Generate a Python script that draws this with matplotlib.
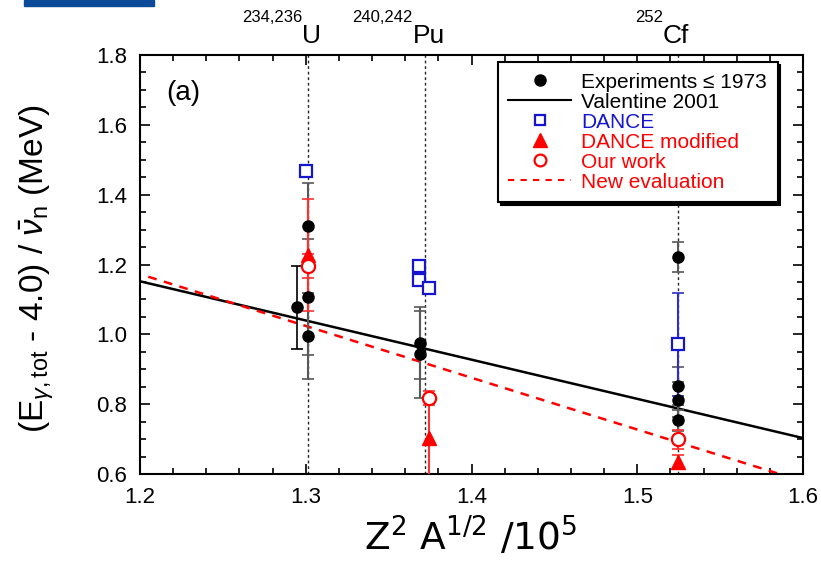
import matplotlib
matplotlib.use("Agg")
import matplotlib.pyplot as plt
from matplotlib.lines import Line2D
from matplotlib.patches import Rectangle
from matplotlib.ticker import MultipleLocator

plt.rcParams['font.family'] = ['Liberation Sans', 'DejaVu Sans']
plt.rcParams['mathtext.fontset'] = 'custom'
plt.rcParams['mathtext.rm'] = 'Liberation Sans'
plt.rcParams['mathtext.it'] = 'Liberation Sans:italic'
plt.rcParams['mathtext.bf'] = 'Liberation Sans:bold'

# isotope positions in Z^2 A^1/2 / 10^5
isotope_x = [1.3015, 1.372, 1.5245]
isotope_sup = ['234,236', '240,242', '252']
isotope_sym = ['U', 'Pu', 'Cf']

# experiments <= 1973
exp_x = [1.3015, 1.3015, 1.3015, 1.369, 1.369, 1.5245, 1.5245, 1.5245, 1.5245]
exp_y = [1.310, 1.107, 0.996, 0.974, 0.943, 1.222, 0.852, 0.813, 0.754]
exp_err = [0.124, 0.165, 0.123, 0.103, 0.125, 0.043, 0.055, 0.05, 0.03]
# one older point shifted off the U line
exp2_x = [1.2949]
exp2_y = [1.077]
exp2_err = [0.12]

# DANCE
dance_x = [1.300, 1.3685, 1.3685, 1.3745, 1.5245]
dance_y = [1.468, 1.196, 1.157, 1.134, 0.971]
dance_err = [0.0, 0.016, 0.0, 0.0, 0.147]

# DANCE modified
mod_x = [1.3015, 1.3745, 1.5245]
mod_y = [1.227, 0.702, 0.635]
mod_err = [0.16, 0.11, 0.02]

# our work
our_x = [1.3015, 1.3745, 1.5245]
our_y = [1.196, 0.818, 0.699]
our_err = [0.034, 0.02, 0.028]

# systematics lines
val_x = [1.2, 1.6]
val_y = [1.152, 0.703]
new_x = [1.205, 1.6]
new_y = [1.165, 0.579]

fig = plt.figure(figsize=(8.21, 5.70), dpi=100)
ax = fig.add_axes([0.1705, 0.1684, 0.8076, 0.7351])

# header bar
fig.patches.append(Rectangle((24 / 821, 1 - 6 / 570), 130 / 821, 6 / 570,
                             transform=fig.transFigure, color='#0b4a98'))

for x in isotope_x:
    ax.axvline(x, color='0.15', ls=(0, (2, 2)), lw=1.0, zorder=1)

ax.plot(val_x, val_y, color='black', lw=1.8, zorder=2)
ax.plot(new_x, new_y, color='red', lw=1.8, ls=(0, (3.5, 3)), zorder=2)

ax.errorbar(exp_x, exp_y, yerr=exp_err, fmt='none', ecolor='0.35',
            elinewidth=1.5, capsize=4.5, capthick=1.2, zorder=3)
ax.errorbar(exp2_x, exp2_y, yerr=exp2_err, fmt='none', ecolor='black',
            elinewidth=1.2, capsize=4.5, capthick=1.2, zorder=3)
ax.errorbar(dance_x, dance_y, yerr=dance_err, fmt='none', ecolor='#3030c0',
            elinewidth=1.5, capsize=4.5, capthick=1.2, zorder=3)
ax.errorbar(mod_x, mod_y, yerr=mod_err, fmt='none', ecolor='#ff3030',
            elinewidth=1.5, capsize=4.5, capthick=1.2, zorder=3)
ax.errorbar(our_x, our_y, yerr=our_err, fmt='none', ecolor='#ff3030',
            elinewidth=1.5, capsize=4.5, capthick=1.2, zorder=3)

ax.plot(exp_x + exp2_x, exp_y + exp2_y, 'o', color='black', ms=8, zorder=5)
ax.plot(dance_x, dance_y, 's', mfc='white', mec='#1515d0', mew=1.6, ms=8, zorder=5)
ax.plot(mod_x, mod_y, '^', color='red', ms=10, zorder=5)
ax.plot(our_x, our_y, 'o', mfc='white', mec='red', mew=1.6, ms=9.5, zorder=6)

ax.set_xlim(1.2, 1.6)
ax.set_ylim(0.6, 1.8)
ax.xaxis.set_major_locator(MultipleLocator(0.1))
ax.xaxis.set_minor_locator(MultipleLocator(0.02))
ax.yaxis.set_major_locator(MultipleLocator(0.2))
ax.yaxis.set_minor_locator(MultipleLocator(0.05))
ax.tick_params(which='both', direction='in', top=True, right=True, width=1.2)
ax.tick_params(which='major', length=7, labelsize=16, pad=9)
ax.tick_params(which='minor', length=4)
for s in ax.spines.values():
    s.set_linewidth(1.5)

ax.set_xlabel(r'Z$^2$ A$^{1/2}$ /10$^5$', family='DejaVu Sans', fontsize=27,
              math_fontfamily='dejavusans')
ax.set_ylabel(r'(E$_{\gamma,\rm tot}$ - 4.0) / $\bar{\nu}_{\rm n}$ (MeV)', fontsize=24)
ax.yaxis.set_label_coords(-0.126, 0.49)
ax.xaxis.set_label_coords(0.498, -0.1)

ax.text(0.039, 0.893, '(a)', transform=ax.transAxes, fontsize=20, va='baseline')

# isotope names above the frame
trans = ax.get_xaxis_transform()
for x, sup, sym in zip([1.2977, 1.3647, 1.5155], isotope_sup, isotope_sym):
    ax.text(x, 1.078, sup, transform=trans, fontsize=12, ha='right', va='baseline')
    ax.text(x, 1.0286, sym, transform=trans, fontsize=19, ha='left', va='baseline')

handles = [
    Line2D([], [], ls='none', marker='o', color='black', ms=8),
    Line2D([], [], color='black', lw=1.5),
    Line2D([], [], ls='none', marker='s', mfc='white', mec='#1515d0', mew=1.6, ms=7.5),
    Line2D([], [], ls='none', marker='^', color='red', ms=10),
    Line2D([], [], ls='none', marker='o', mfc='white', mec='red', mew=1.6, ms=8.5),
    Line2D([], [], color='red', lw=1.5, ls=(0, (3, 3))),
]
labels = ['Experiments \u2264 1973', 'Valentine 2001', 'DANCE', 'DANCE modified',
          'Our work', 'New evaluation']
leg = ax.legend(handles, labels, loc='upper left', bbox_to_anchor=(0.540, 0.983),
                borderaxespad=0, fontsize=15, frameon=True, fancybox=False,
                shadow={'color': 'black', 'alpha': 1}, handlelength=3.0,
                handletextpad=0.5, labelspacing=0.05, borderpad=0.5,
                labelcolor=['black', 'black', '#1515d0', 'red', 'red', 'red'])
leg.get_frame().set_edgecolor('black')
leg.get_frame().set_linewidth(1.5)
leg.set_zorder(10)

fig.savefig('out.png', dpi=100)
